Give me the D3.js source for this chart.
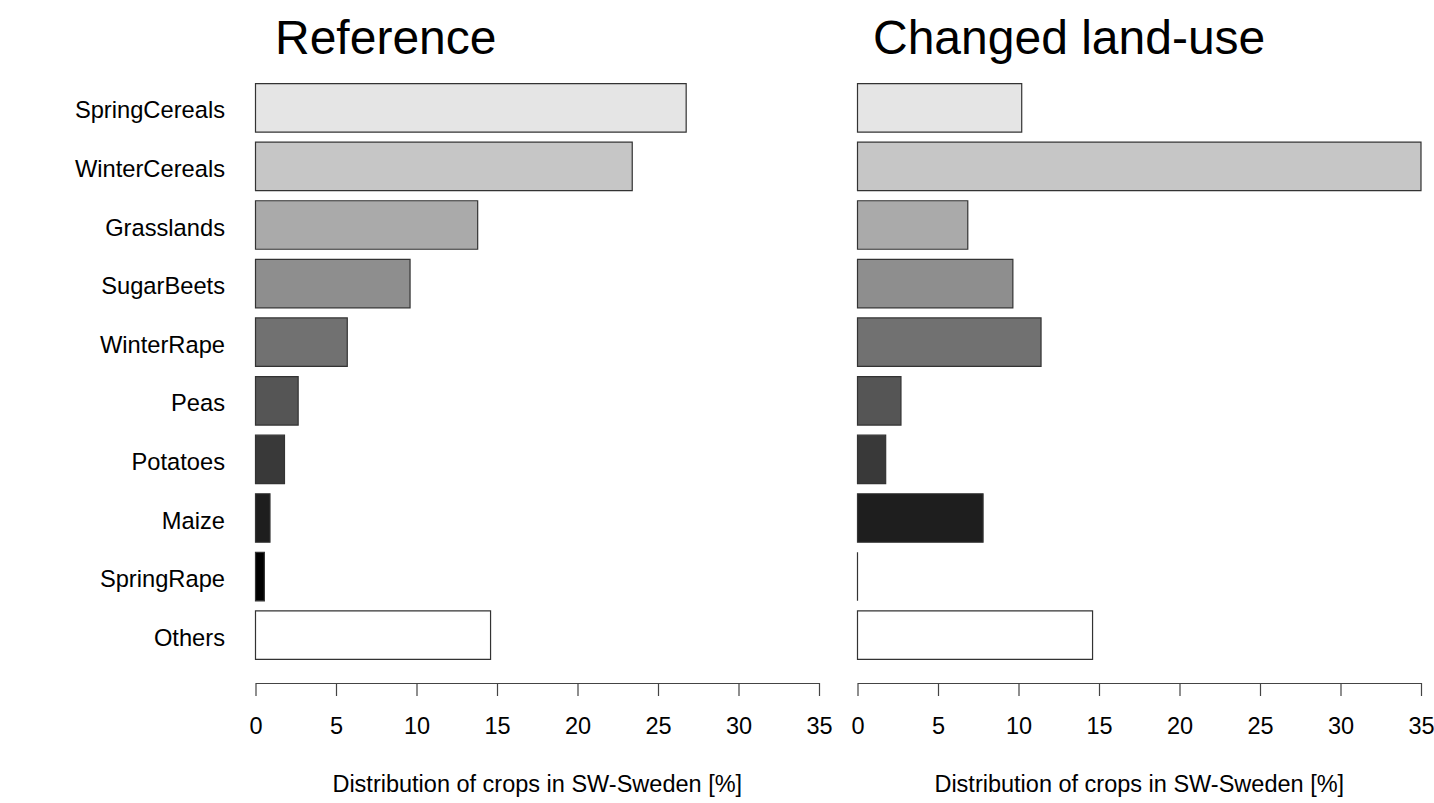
<!DOCTYPE html>
<html lang="en">
<head>
	<meta charset="utf-8">
	<script src="https://d3js.org/d3.v7.min.js"></script>
	<title>Crop distribution</title>
	<style>
		body { margin: 0; background: #fff; }
		text { font-family: "Liberation Sans", Arial, sans-serif; fill: #000; }
	</style>
</head>
<body>
	<script type="text/javascript">
		// crops, top to bottom
		var crops = ["SpringCereals", "WinterCereals", "Grasslands", "SugarBeets", "WinterRape",
			"Peas", "Potatoes", "Maize", "SpringRape", "Others"];

		// share of each crop [%]
		var referenceValues = [26.75, 23.4, 13.8, 9.6, 5.7, 2.65, 1.8, 0.9, 0.55, 14.6];
		var changedValues = [10.2, 35.0, 6.85, 9.65, 11.4, 2.7, 1.75, 7.8, 0, 14.6];

		var panelTitles = ["Reference", "Changed land-use"];
		var xTicks = [0, 5, 10, 15, 20, 25, 30, 35];
		var axisTitle = "Distribution of crops in SW-Sweden [%]";

		var fills = ["#e5e5e5", "#c6c6c6", "#aaaaaa", "#8e8e8e", "#717171",
			"#555555", "#393939", "#1e1e1e", "#000000", "#ffffff"];

		var width = 1434;
		var height = 803;

		var svg = d3.select("body")
			.append("svg")
			.attr("width", width)
			.attr("height", height);

		// shared vertical band scale for the crops
		var y = d3.scaleBand()
			.domain(crops)
			.range([78.5, 664.5])
			.paddingInner(0.172)
			.paddingOuter(0.086);

		var colour = d3.scaleOrdinal()
			.domain(crops)
			.range(fills);

		var panels = [
			{ title: panelTitles[0], values: referenceValues, x0: 255.5, x1: 819, titleX: 275, labels: true },
			{ title: panelTitles[1], values: changedValues, x0: 857.5, x1: 1421, titleX: 873, labels: false }
		];

		panels.forEach(function(p) {
			var x = d3.scaleLinear().domain([0, 35]).range([p.x0, p.x1]);
			var g = svg.append("g");

			// panel title
			g.append("text")
				.attr("x", p.titleX)
				.attr("y", 54)
				.style("font-size", "48px")
				.text(p.title);

			// bars as paths so zero-width bars still show their outline
			g.selectAll("path.bar")
				.data(crops.map(function(c, i) { return { crop: c, value: p.values[i] }; }))
				.enter()
				.append("path")
				.attr("class", "bar")
				.attr("d", function(d) {
					var x0 = x(0), x1 = x(d.value), y0 = y(d.crop), y1 = y0 + y.bandwidth();
					return "M" + x0 + "," + y0 + "H" + x1 + "V" + y1 + "H" + x0 + "Z";
				})
				.style("fill", function(d) { return colour(d.crop); })
				.style("stroke", "#333")
				.style("stroke-width", 1.2);

			// crop names only on the left panel
			if (p.labels) {
				g.selectAll("text.crop")
					.data(crops)
					.enter()
					.append("text")
					.attr("class", "crop")
					.attr("x", 225)
					.attr("y", function(d) { return y(d) + y.bandwidth() / 2; })
					.attr("dy", "0.45em")
					.attr("text-anchor", "end")
					.style("font-size", "23.7px")
					.text(function(d) { return d; });
			}

			// x axis
			var axis = g.append("g")
				.attr("transform", "translate(0,683)")
				.call(d3.axisBottom(x).tickValues(xTicks).tickSize(13).tickSizeOuter(0).tickPadding(21));
			axis.select(".domain").attr("stroke", "#444").attr("stroke-width", 1.2);
			axis.selectAll(".tick line").attr("stroke", "#444").attr("stroke-width", 1.2);
			axis.selectAll(".tick text")
				.style("font-size", "23.5px")
				.style("font-family", "'Liberation Sans', Arial, sans-serif")
				.attr("fill", "#000");

			// axis title
			g.append("text")
				.attr("x", (p.x0 + p.x1) / 2)
				.attr("y", 792)
				.attr("text-anchor", "middle")
				.style("font-size", "23.5px")
				.text(axisTitle);
		});
	</script>
</body>
</html>
